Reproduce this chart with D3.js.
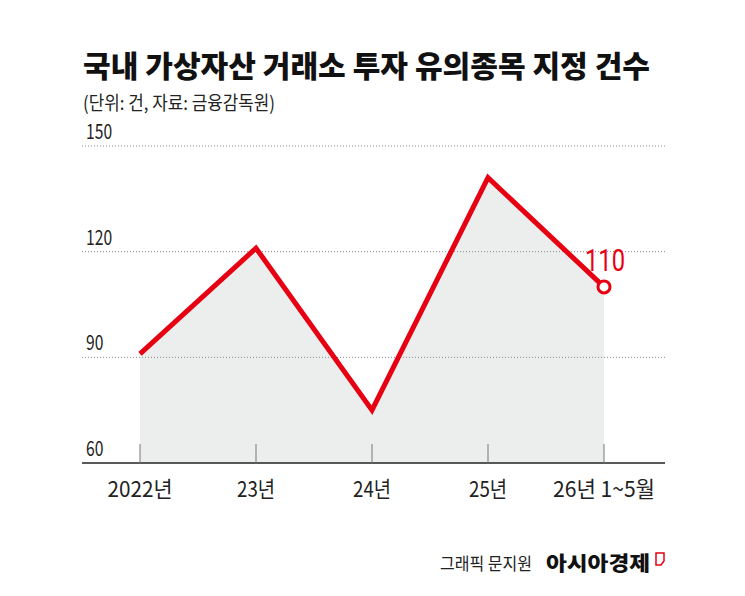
<!DOCTYPE html>
<html>
<head>
<meta charset="utf-8">
<script src="https://cdn.jsdelivr.net/npm/d3@7"></script>
<style>
  body { margin: 0; background: #fff; }
  svg { display: block; }
  text { font-family: "Noto Sans CJK KR", "Noto Sans", sans-serif; }
</style>
</head>
<body>
<div id="chart"></div>
<script>
const categories = ['2022년', '23년', '24년', '25년', '26년 1~5월'];
const values = [91, 121, 75, 141, 110];
const yTicks = [60, 90, 120, 150];

const width = 745, height = 596;
const plot = { left: 82, right: 665, top: 146, bottom: 463 };

const svg = d3.select('#chart').append('svg')
    .attr('width', width)
    .attr('height', height);

// condensed text helper (the original uses a narrow face)
function label(sel, str, x, y, size, weight, fill, len, anchor) {
    const t = sel.append('text')
        .attr('x', x).attr('y', y)
        .attr('font-size', size)
        .attr('font-weight', weight)
        .attr('fill', fill)
        .attr('text-anchor', anchor || 'start')
        .text(str);
    if (len) t.attr('textLength', len).attr('lengthAdjust', 'spacingAndGlyphs');
    return t;
}

label(svg, '국내 가상자산 거래소 투자 유의종목 지정 건수', 83, 77, 30, 900, '#111', 567);
label(svg, '(단위: 건, 자료: 금융감독원)', 83, 110, 19, 400, '#222', 192);

const x = d3.scalePoint().domain(categories).range([140, 604]);
const y = d3.scaleLinear().domain([60, 150]).range([plot.bottom, plot.top]);

const data = categories.map((c, i) => ({ cat: c, value: values[i] }));

// shaded area
const area = d3.area()
    .x(d => x(d.cat))
    .y0(plot.bottom)
    .y1(d => y(d.value));
svg.append('path')
    .datum(data)
    .attr('d', area)
    .attr('fill', '#eceeee');

// dotted gridlines + y labels
yTicks.forEach(v => {
    if (v > 60) {
        svg.append('line')
            .attr('x1', plot.left).attr('x2', plot.right)
            .attr('y1', y(v)).attr('y2', y(v))
            .attr('stroke', '#888')
            .attr('stroke-width', 1)
            .attr('stroke-dasharray', '1,2');
    }
    label(svg, String(v), 86, y(v) - 7, 21, 400, '#222', String(v).length * 8.7);
});

// x axis
svg.append('line')
    .attr('x1', plot.left).attr('x2', plot.right)
    .attr('y1', plot.bottom).attr('y2', plot.bottom)
    .attr('stroke', '#222').attr('stroke-width', 1.5);
categories.forEach(c => {
    svg.append('line')
        .attr('x1', x(c)).attr('x2', x(c))
        .attr('y1', plot.bottom - 19).attr('y2', plot.bottom)
        .attr('stroke', '#777').attr('stroke-width', 1);
});
const labLen = { '2022년': 65, '23년': 38, '24년': 38, '25년': 38, '26년 1~5월': 102 };
categories.forEach(c => {
    label(svg, c, x(c), 497, 22, 400, '#222', labLen[c], 'middle');
});

// red line
const line = d3.line()
    .x(d => x(d.cat))
    .y(d => y(d.value));
svg.append('path')
    .datum(data)
    .attr('d', line)
    .attr('fill', 'none')
    .attr('stroke', '#e60012')
    .attr('stroke-width', 5)
    .attr('stroke-linejoin', 'miter');

// end marker + value label
const last = data[data.length - 1];
svg.append('circle')
    .attr('cx', x(last.cat)).attr('cy', y(last.value))
    .attr('r', 6)
    .attr('fill', '#fff')
    .attr('stroke', '#e60012')
    .attr('stroke-width', 3);
label(svg, String(last.value), x(last.cat) + 1, y(last.value) - 16, 32, 400, '#e60012', 40, 'middle')
    .style('font-family', 'Roboto, sans-serif');

// footer
label(svg, '그래픽 문지원', 440, 570, 17, 400, '#222', 92);
label(svg, '아시아경제', 546, 571, 20, 900, '#111', 104);
svg.append('path')
    .attr('d', 'M656,553 h8 v8 l-3,4 h-5 z')
    .attr('fill', 'none')
    .attr('stroke', '#e60012')
    .attr('stroke-width', 1.5);
</script>
</body>
</html>
